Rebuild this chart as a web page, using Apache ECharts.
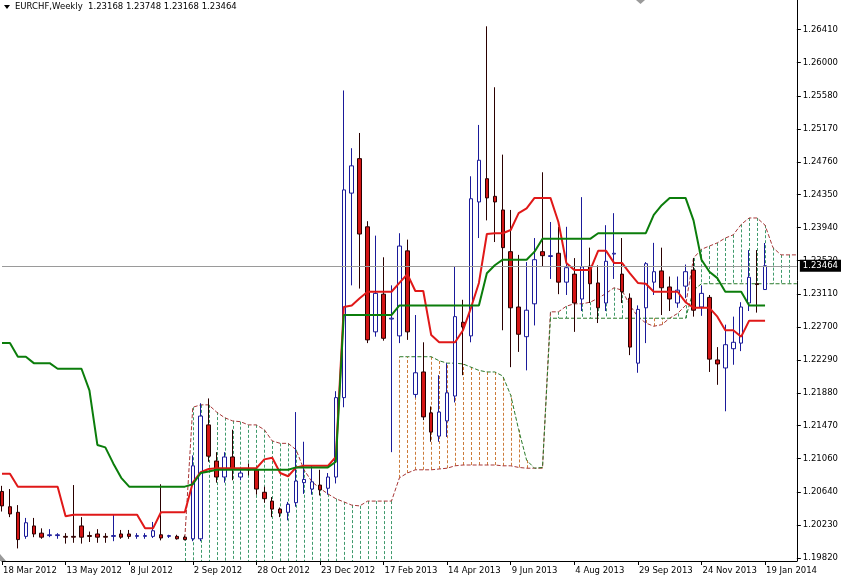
<!DOCTYPE html>
<html><head><meta charset="utf-8">
<script src="https://cdn.jsdelivr.net/npm/echarts@6/dist/echarts.min.js"></script>
<style>html,body{margin:0;padding:0;background:#fff}#c{width:841px;height:579px}</style>
</head><body><div id="c"></div>
<script>
const titleText = 'EURCHF,Weekly  1.23168 1.23748 1.23168 1.23464';
const lastPrice = 1.23464;
const xTickLabels = ['18 Mar 2012','13 May 2012','8 Jul 2012','2 Sep 2012','28 Oct 2012','23 Dec 2012','17 Feb 2013','14 Apr 2013','9 Jun 2013','4 Aug 2013','29 Sep 2013','24 Nov 2013','19 Jan 2014'];
const yTickValues = [1.19820,1.20230,1.20640,1.21060,1.21470,1.21880,1.22290,1.22700,1.23110,1.23530,1.23940,1.24350,1.24760,1.25170,1.25580,1.26000,1.26410];

const opens = [
1.2065,1.2046,1.2039,1.2009,1.2022,1.2013,1.2010,1.2010,1.2009,1.2009,
1.2022,1.2010,1.2012,1.2009,1.2009,1.2012,1.2012,1.2009,1.2009,1.2009,
1.2011,1.2009,1.2009,1.2008,1.2006,1.2006,1.2148,1.2103,1.2083,1.2108,
1.2083,1.2093,1.2092,1.2064,1.2053,1.2043,1.2039,1.2051,1.2076,1.2068,
1.2073,1.2069,1.2083,1.2182,1.2437,1.2480,1.2395,1.2264,1.2311,1.2280,
1.2259,1.2365,1.2186,1.2214,1.2163,1.2134,1.2153,1.2184,1.2276,1.2259,
1.2426,1.2455,1.2433,1.2416,1.2364,1.2295,1.2258,1.2299,1.2364,1.2358,
1.2362,1.2326,1.2336,1.2305,1.2346,1.2325,1.2300,1.2361,1.2336,1.2306,
1.2225,1.2294,1.2326,1.2340,1.2320,1.2300,1.2321,1.2341,1.2295,1.2307,
1.2229,1.2219,1.2243,1.2250,1.2300,1.2324,1.23168];
const closes = [
1.2047,1.2037,1.2005,1.2026,1.2012,1.2008,1.2011,1.2011,1.2008,1.2008,
1.2008,1.2009,1.2008,1.2008,1.2010,1.2008,1.2009,1.2010,1.2010,1.2016,
1.2007,1.2010,1.2006,1.2005,1.2097,1.2159,1.2109,1.2083,1.2108,1.2093,
1.2088,1.2092,1.2068,1.2056,1.2043,1.2038,1.2049,1.2078,1.2080,1.2077,
1.2067,1.2083,1.2182,1.2441,1.2471,1.2386,1.2254,1.2312,1.2256,1.2281,
1.2371,1.2264,1.2213,1.2158,1.2139,1.2164,1.2188,1.2283,1.2270,1.2430,
1.2478,1.2431,1.2426,1.2369,1.2294,1.2261,1.2291,1.2354,1.2359,1.2359,
1.2326,1.2344,1.2300,1.2345,1.2324,1.2294,1.2352,1.2362,1.2314,1.2245,
1.2292,1.2349,1.2339,1.2319,1.2305,1.2316,1.2339,1.2291,1.2312,1.2230,
1.2224,1.2248,1.2251,1.2295,1.2332,1.2323,1.23464];
const lows = [
1.2040,1.2033,1.1994,1.2006,1.2008,1.2006,1.2008,1.2006,1.2000,1.2001,
1.2000,1.2002,1.2001,1.2001,1.2003,1.2006,1.2006,1.2006,1.2006,1.2007,
1.2004,1.2007,1.2005,1.2004,1.2003,1.2003,1.2102,1.2076,1.2076,1.2079,
1.2079,1.2085,1.2061,1.2051,1.2033,1.2033,1.2029,1.2046,1.2062,1.2061,
1.2060,1.2061,1.2075,1.2170,1.2322,1.2318,1.2250,1.2258,1.2253,1.2114,
1.2250,1.2254,1.2182,1.2154,1.2127,1.2127,1.2133,1.2176,1.2210,1.2251,
1.2381,1.2403,1.2376,1.2266,1.2220,1.2239,1.2216,1.2272,1.2345,1.2330,
1.2311,1.2310,1.2264,1.2290,1.2300,1.2275,1.2290,1.2330,1.2300,1.2235,
1.2213,1.2250,1.2310,1.2285,1.2290,1.2294,1.2306,1.2283,1.2284,1.2214,
1.2198,1.2165,1.2223,1.2240,1.2290,1.2288,1.23168];
const highs = [
1.2072,1.2068,1.2048,1.2032,1.2032,1.2019,1.2018,1.2013,1.2013,1.2073,
1.2033,1.2015,1.2018,1.2013,1.2036,1.2017,1.2017,1.2013,1.2013,1.2027,
1.2074,1.2011,1.2011,1.2010,1.2110,1.2175,1.2181,1.2114,1.2114,1.2142,
1.2093,1.2100,1.2096,1.2071,1.2058,1.2045,1.2052,1.2164,1.2127,1.2098,
1.2092,1.2088,1.2190,1.2565,1.2493,1.2512,1.2402,1.2384,1.2357,1.2322,
1.2387,1.2379,1.2285,1.2251,1.2171,1.2210,1.2225,1.2346,1.2304,1.2458,
1.2522,1.2645,1.2569,1.2485,1.2416,1.2360,1.2351,1.2381,1.2463,1.2401,
1.2395,1.2395,1.2356,1.2432,1.2369,1.2347,1.2397,1.2412,1.2381,1.2312,
1.2297,1.2351,1.2375,1.2369,1.2333,1.2333,1.2348,1.2356,1.2322,1.2310,
1.2245,1.2273,1.2283,1.2301,1.2366,1.2366,1.23748];

const tenkan = [
1.2087,1.2087,1.2071,1.2071,1.2071,1.2071,1.2071,1.2071,1.2034,1.2036,
1.2036,1.2036,1.2036,1.2036,1.2036,1.2036,1.2036,1.2036,1.2019,1.2019,
1.2039,1.2039,1.2039,1.2039,1.2076,1.2089,1.2093,1.2094,1.2094,1.2094,
1.2094,1.2094,1.2094,1.2105,1.2107,1.2088,1.2084,1.2095,1.2097,1.2097,
1.2097,1.2097,1.2108,1.2295,1.2297,1.2306,1.2314,1.2314,1.2314,1.2314,
1.2325,1.2336,1.2315,1.2315,1.2260,1.2251,1.2251,1.2251,1.2266,1.2294,
1.2325,1.2386,1.2387,1.2387,1.2391,1.2412,1.2418,1.2431,1.2431,1.2431,
1.2401,1.2350,1.2341,1.2341,1.2341,1.2365,1.2365,1.2350,1.2350,1.2337,
1.2325,1.2324,1.2314,1.2314,1.2314,1.2314,1.2301,1.2294,1.2294,1.2294,
1.2283,1.2266,1.2266,1.2258,1.2278,1.2278,1.2278];
const kijun = [
1.2250,1.2250,1.2233,1.2233,1.2225,1.2225,1.2225,1.2218,1.2218,1.2218,
1.2218,1.2191,1.2123,1.2120,1.2100,1.2082,1.2071,1.2071,1.2071,1.2071,
1.2071,1.2071,1.2071,1.2071,1.2074,1.2088,1.2090,1.2092,1.2092,1.2092,
1.2092,1.2092,1.2092,1.2092,1.2092,1.2092,1.2092,1.2095,1.2095,1.2095,
1.2095,1.2095,1.2102,1.2285,1.2285,1.2285,1.2285,1.2285,1.2285,1.2285,
1.2297,1.2297,1.2297,1.2297,1.2297,1.2297,1.2297,1.2297,1.2297,1.2297,
1.2297,1.2337,1.2347,1.2354,1.2354,1.2354,1.2354,1.2364,1.2380,1.2380,
1.2380,1.2380,1.2380,1.2380,1.2380,1.2387,1.2387,1.2387,1.2387,1.2387,
1.2387,1.2387,1.2410,1.2422,1.2431,1.2431,1.2431,1.2403,1.2354,1.2339,
1.2331,1.2314,1.2314,1.2314,1.2297,1.2297,1.2297];

const spanA = [
null,null,null,null,null,null,null,null,null,null,
null,null,null,null,null,null,null,null,null,null,
null,null,null,1.2007,1.2170,1.2173,1.2173,1.2164,1.2157,1.2153,
1.2152,1.2148,1.2148,1.2142,1.2128,1.2125,1.2125,1.2117,1.2092,1.2077,
1.2069,1.2062,1.2056,1.2052,1.2048,1.2047,1.2053,1.2053,1.2053,1.2053,
1.2082,1.2088,1.2092,1.2092,1.2092,1.2093,1.2094,1.2097,1.2098,1.2098,
1.2098,1.2098,1.2098,1.2097,1.2097,1.2095,1.2094,1.2094,1.2094,1.2289,
1.2289,1.2296,1.2299,1.2299,1.2301,1.2306,1.2312,1.2319,1.2316,1.2297,
1.2283,1.2275,1.2271,1.2273,1.2281,1.2287,1.2297,1.2356,1.2367,1.2371,
1.2375,1.2381,1.2385,1.2398,1.2406,1.2406,1.2397,1.2369,1.2360,1.2360,1.2360];
const spanB = [
null,null,null,null,null,null,null,null,null,null,
null,null,null,null,null,null,null,null,null,null,
null,null,null,null,null,null,null,null,null,null,
null,null,null,null,null,null,null,null,null,null,
null,null,null,null,null,null,null,null,null,null,
1.2233,1.2233,1.2233,1.2233,1.2233,1.2228,1.2225,1.2225,1.2224,1.2220,
1.2216,1.2214,1.2214,1.2209,1.2185,1.2142,1.2104,1.2094,1.2095,1.2281,
1.2281,1.2281,1.2281,1.2281,1.2281,1.2281,1.2281,1.2281,1.2281,1.2281,
1.2281,1.2281,1.2281,1.2281,1.2281,1.2281,1.2281,1.2316,1.2324,1.2324,
1.2324,1.2324,1.2324,1.2324,1.2324,1.2324,1.2324,1.2324,1.2324,1.2324,1.2324];

const FONT = 'DejaVu Sans';
const Y_MIN = 1.19783, Y_MAX = 1.26778;
const months = ['Jan','Feb','Mar','Apr','May','Jun','Jul','Aug','Sep','Oct','Nov','Dec'];
const categories = [];
let t = Date.UTC(2012, 2, 18);
for (let i = 0; i < spanA.length; i++) {
  const d = new Date(t);
  categories.push(d.getUTCDate() + ' ' + months[d.getUTCMonth()] + ' ' + d.getUTCFullYear());
  t += 7 * 86400000;
}
const candle = opens.map((o, i) => [o, closes[i], lows[i], highs[i]]);
const hatch = [];
for (let i = 0; i < spanA.length; i++) {
  if (spanA[i] == null) continue;
  hatch.push([i, spanA[i], spanB[i] == null ? Y_MIN : spanB[i]]);
}

const chart = echarts.init(document.getElementById('c'), null, {renderer: 'canvas'});
chart.setOption({
  animation: false,
  backgroundColor: '#fff',
  grid: {left: 0, right: 41, top: 0, bottom: 18},
  xAxis: {
    type: 'category', data: categories, boundaryGap: false,
    axisLine: {onZero: false, lineStyle: {color: '#000', width: 1}},
    axisTick: {interval: (i) => i % 8 === 0, length: 4, lineStyle: {color: '#000'}},
    axisLabel: {interval: (i) => i % 8 === 0, align: 'left', margin: 5, color: '#000',
      fontFamily: FONT, fontSize: 8.5, padding: [0, 0, 0, 1],
      formatter: (v, idx) => xTickLabels[Math.round(idx / 8)] || v},
    splitLine: {show: false}
  },
  yAxis: {
    type: 'value', position: 'right', min: Y_MIN, max: Y_MAX, scale: true,
    axisLine: {show: true, onZero: false, lineStyle: {color: '#000', width: 1}},
    axisTick: {show: true, length: 4, customValues: yTickValues, lineStyle: {color: '#000'}},
    axisLabel: {customValues: yTickValues, formatter: (v) => v.toFixed(5), margin: 6,
      color: '#000', fontFamily: FONT, fontSize: 8.5},
    splitLine: {show: false}
  },
  graphic: [
    {type: 'polygon', shape: {points: [[4, 5], [10, 5], [7, 9]]}, style: {fill: '#000'}},
    {type: 'text', x: 15, y: 2, style: {text: titleText, font: '8.5px "DejaVu Sans"', fill: '#000'}},
    {type: 'polygon', shape: {points: [[636, 0], [645, 0], [640.5, 4]]}, style: {fill: '#9a9a9a'}},
    {type: 'polygon', shape: {points: [[0, 554], [0, 561], [6, 561]]}, style: {fill: '#9a9a9a'}}
  ],
  series: [
    {
      type: 'custom', data: hatch, encode: {x: 0, y: [1, 2]}, clip: true, silent: true, z: 1,
      renderItem: (params, api) => {
        const i = api.value(0), a = api.value(1), b = api.value(2);
        const p1 = api.coord([i, a]), p2 = api.coord([i, b]);
        const x = Math.round(p1[0]) + 0.5;
        return {type: 'line', shape: {x1: x, y1: p1[1], x2: x, y2: p2[1]},
          style: {stroke: a >= b ? '#3f9a6c' : '#cc7b3a', lineWidth: 1, lineDash: [3, 2]}};
      }
    },
    {type: 'line', data: spanA, symbol: 'none', silent: true, z: 2,
      lineStyle: {color: '#a83838', width: 1, type: [4, 2]},
      markLine: {
        symbol: ['none', 'none'], silent: true, animation: false, precision: 5,
        lineStyle: {color: '#9a9a9a', width: 1, type: 'solid'},
        label: {show: true, position: 'end', formatter: lastPrice.toFixed(5), backgroundColor: '#000',
          color: '#fff', fontFamily: FONT, fontSize: 8.5, padding: [2, 3, 1, 3], distance: 3},
        emphasis: {disabled: true},
        data: [{yAxis: lastPrice}]
      }},
    {type: 'line', data: spanB, symbol: 'none', silent: true, z: 2,
      lineStyle: {color: '#2a7a2a', width: 1, type: [4, 2]}},
    {
      type: 'candlestick', data: candle, barWidth: 4, z: 3, silent: true,
      itemStyle: {color: '#ffffff', color0: '#d41414', borderColor: '#1a1a9a', borderColor0: '#2a0000', borderWidth: 1}
    },
    {type: 'line', data: tenkan, symbol: 'none', silent: true, z: 4,
      lineStyle: {color: '#e01818', width: 2}},
    {type: 'line', data: kijun, symbol: 'none', silent: true, z: 5,
      lineStyle: {color: '#0b7d0b', width: 2}}
  ]
});
</script>
</body></html>
